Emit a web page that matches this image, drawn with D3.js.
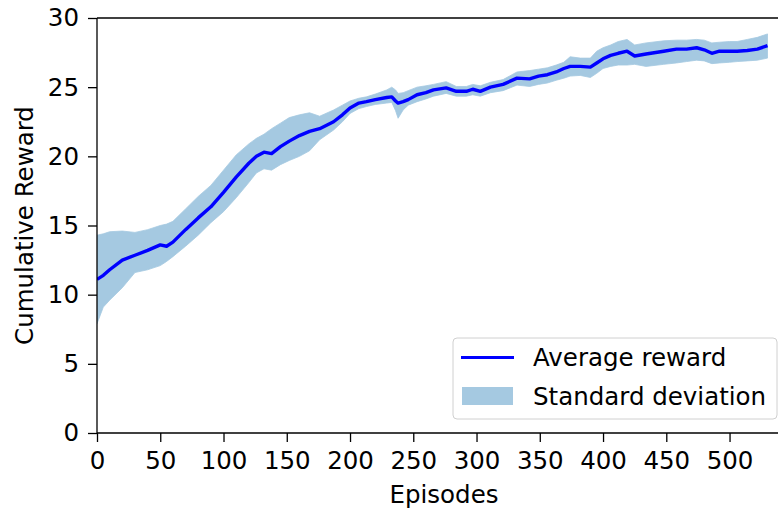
<!DOCTYPE html>
<html>
<head>
<meta charset="utf-8">
<script src="https://cdn.jsdelivr.net/npm/d3@7"></script>
<style>
  html, body { margin: 0; padding: 0; background: #fff; }
  svg { display: block; }
  text { font-family: "DejaVu Sans", sans-serif; fill: #000; }
</style>
</head>
<body>
<svg id="chart" width="778" height="508"></svg>
<script>
// ---- data ----
const episodes = [0,5,10,20,30,40,50,55,60,70,80,90,100,110,120,126,132,138,145,152,160,168,176,187,194,200,207,213,220,229,233,236,238,242,246,253,260,266,276,284,292,297,303,311,321,332,342,349,356,363,369,374,382,390,395,400,406,412,419,425,434,448,458,466,474,480,486,492,500,506,514,522,530];
const meanReward = [11.1,11.4,11.8,12.5,12.85,13.2,13.6,13.5,13.8,14.7,15.55,16.35,17.4,18.5,19.5,20.0,20.3,20.2,20.7,21.1,21.5,21.8,22.0,22.5,23.0,23.5,23.85,23.95,24.1,24.25,24.3,24.0,23.85,23.95,24.1,24.45,24.6,24.8,24.95,24.7,24.7,24.85,24.7,25.0,25.2,25.65,25.6,25.8,25.9,26.1,26.35,26.5,26.5,26.45,26.75,27.05,27.3,27.45,27.6,27.25,27.4,27.6,27.75,27.75,27.85,27.7,27.45,27.6,27.6,27.6,27.65,27.75,28.0];
const lowerBand = [7.9,9.1,9.6,10.5,11.6,11.8,12.1,12.4,12.75,13.5,14.3,15.2,16.0,17.0,18.1,18.8,19.1,19.0,19.4,19.7,20.0,20.4,21.2,21.9,22.5,23.1,23.45,23.6,23.75,23.85,23.9,23.3,22.75,23.35,23.7,23.95,24.15,24.35,24.55,24.35,24.35,24.45,24.35,24.6,24.75,25.15,25.05,25.2,25.3,25.5,25.65,25.8,25.85,25.7,26.0,26.35,26.5,26.6,26.6,26.65,26.5,26.65,26.75,26.85,26.95,26.9,26.7,26.75,26.8,26.85,26.9,26.95,27.1];
const upperBand = [14.3,14.4,14.55,14.6,14.5,14.7,15.0,15.1,15.3,16.2,17.1,17.9,19.0,20.1,20.9,21.3,21.6,22.0,22.4,22.8,23.0,23.15,22.9,23.35,23.7,24.0,24.2,24.3,24.5,24.8,25.0,24.8,24.55,24.6,24.75,25.0,25.1,25.2,25.4,25.05,25.05,25.2,25.1,25.35,25.55,26.1,26.2,26.3,26.4,26.6,26.8,27.2,27.1,27.1,27.6,27.85,28.05,28.3,28.45,28.05,28.2,28.35,28.4,28.4,28.45,28.4,28.2,28.25,28.3,28.3,28.45,28.6,28.85];
const xTicks = [0,50,100,150,200,250,300,350,400,450,500];
const yTicks = [0,5,10,15,20,25,30];
const legendLabels = ["Average reward", "Standard deviation"];
const xLabel = "Episodes";
const yLabel = "Cumulative Reward";

// ---- layout ----
const mLeft = 97, mTop = 18, mBottom = 433, mRight = 778;
const fontSize = 24.5;
const lineColor = "#0000ff";
const bandColor = "#a5c9e1";

const svg = d3.select("#chart");

const x = d3.scaleLinear().domain([0, 538.3]).range([mLeft, mRight]);
const y = d3.scaleLinear().domain([0, 30]).range([mBottom, mTop]);

const rows = episodes.map((e, i) => ({ e, m: meanReward[i], lo: lowerBand[i], hi: upperBand[i] }));

svg.append("clipPath").attr("id", "plotclip")
  .append("rect").attr("x", mLeft).attr("y", mTop).attr("width", mRight - mLeft).attr("height", mBottom - mTop);

const plot = svg.append("g").attr("clip-path", "url(#plotclip)");

plot.append("path")
  .datum(rows)
  .attr("fill", bandColor)
  .attr("stroke", bandColor)
  .attr("stroke-width", 0.8)
  .attr("d", d3.area().x(d => x(d.e)).y0(d => y(d.lo)).y1(d => y(d.hi)));

plot.append("path")
  .datum(rows)
  .attr("fill", "none")
  .attr("stroke", lineColor)
  .attr("stroke-width", 3.4)
  .attr("stroke-linejoin", "round")
  .attr("d", d3.line().x(d => x(d.e)).y(d => y(d.m)));

// ---- axes ----
const xAxis = svg.append("g")
  .attr("transform", `translate(0,${mBottom})`)
  .call(d3.axisBottom(x).tickValues(xTicks).tickSize(9).tickPadding(10).tickFormat(d3.format("d")));
const yAxis = svg.append("g")
  .attr("transform", `translate(${mLeft},0)`)
  .call(d3.axisLeft(y).tickValues(yTicks).tickSize(9).tickPadding(9).tickFormat(d3.format("d")));

[xAxis, yAxis].forEach(g => {
  g.select(".domain").remove();
  g.selectAll(".tick line").attr("stroke", "#000").attr("stroke-width", 1.3);
  g.selectAll(".tick text").attr("font-size", fontSize).attr("font-family", "DejaVu Sans").attr("fill", "#000");
});

// spines
svg.append("line").attr("x1", mLeft).attr("x2", mRight).attr("y1", mTop).attr("y2", mTop).attr("stroke", "#000").attr("stroke-width", 1.3);
svg.append("line").attr("x1", mLeft).attr("x2", mRight).attr("y1", mBottom).attr("y2", mBottom).attr("stroke", "#000").attr("stroke-width", 1.3);
svg.append("line").attr("x1", mLeft).attr("x2", mLeft).attr("y1", mTop).attr("y2", mBottom).attr("stroke", "#000").attr("stroke-width", 1.3);

// axis labels
svg.append("text").attr("x", 444).attr("y", 503)
  .attr("text-anchor", "middle").attr("font-size", fontSize).text(xLabel);
svg.append("text").attr("transform", `translate(33,${(mTop + mBottom) / 2}) rotate(-90)`)
  .attr("text-anchor", "middle").attr("font-size", fontSize).text(yLabel);

// ---- legend ----
const lg = svg.append("g");
lg.append("rect").attr("x", 453).attr("y", 338).attr("width", 324).attr("height", 81)
  .attr("rx", 4).attr("fill", "#fff").attr("fill-opacity", 0.8).attr("stroke", "#d0d0d0").attr("stroke-width", 1);
lg.append("line").attr("x1", 461).attr("x2", 514).attr("y1", 357.5).attr("y2", 357.5)
  .attr("stroke", lineColor).attr("stroke-width", 3);
lg.append("rect").attr("x", 462).attr("y", 387).attr("width", 51).attr("height", 18).attr("fill", bandColor);
lg.selectAll("text.lt").data(legendLabels).join("text").attr("class", "lt")
  .attr("x", 533).attr("y", (d, i) => 366 + i * 39)
  .attr("font-size", fontSize).text(d => d);
</script>
</body>
</html>
